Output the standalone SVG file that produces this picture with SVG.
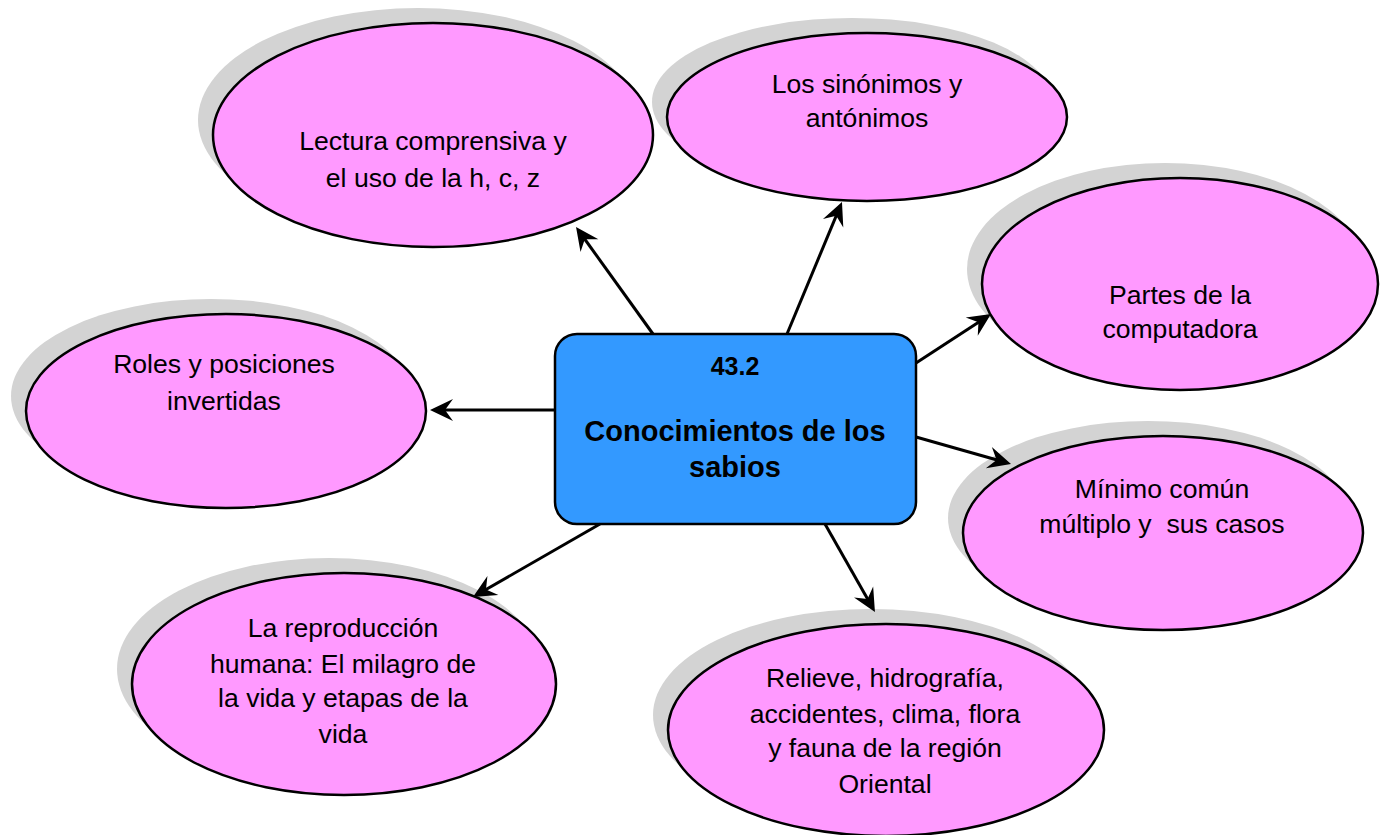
<svg xmlns="http://www.w3.org/2000/svg" width="1389" height="835" viewBox="0 0 1389 835">
<style>
.sh{fill:#d3d3d3;stroke:none}
.el{fill:#ff99ff;stroke:#000;stroke-width:2.5}
.t{font-family:"Liberation Sans",Arial,sans-serif;font-size:26.6px;fill:#000;text-anchor:middle}
.b{font-family:"Liberation Sans",Arial,sans-serif;font-weight:bold;font-size:29px;fill:#000;text-anchor:middle}
.c{stroke:#000;stroke-width:3;fill:none;marker-end:url(#ah)}
</style>
<defs>
<marker id="ah" markerUnits="userSpaceOnUse" viewBox="-24 -12 26 24" refX="-8" refY="0" markerWidth="26" markerHeight="24" orient="auto">
<path d="M0,0 L-23,-11 L-15,0 L-23,11 Z" fill="#000"/>
</marker>
</defs>
<rect width="1389" height="835" fill="#fff"/>
<g id="n-lectura">
<ellipse class="sh" cx="418" cy="120" rx="220" ry="112"/>
<ellipse class="el" cx="433" cy="135" rx="220" ry="112"/>
<text class="t" x="433" y="150">Lectura comprensiva y</text>
<text class="t" x="433" y="187">el uso de la h, c, z</text>
</g>
<g id="n-sinonimos">
<ellipse class="sh" cx="852" cy="102" rx="200" ry="84"/>
<ellipse class="el" cx="867" cy="117" rx="200" ry="84"/>
<text class="t" x="867" y="93">Los sinónimos y</text>
<text class="t" x="867" y="127">antónimos</text>
</g>
<g id="n-partes">
<ellipse class="sh" cx="1165" cy="269" rx="198" ry="106"/>
<ellipse class="el" cx="1180" cy="284" rx="198" ry="106"/>
<text class="t" x="1180" y="304">Partes de la</text>
<text class="t" x="1180" y="338">computadora</text>
</g>
<g id="n-roles">
<ellipse class="sh" cx="211" cy="396" rx="200" ry="97"/>
<ellipse class="el" cx="226" cy="411" rx="200" ry="97"/>
<text class="t" x="224" y="373">Roles y posiciones</text>
<text class="t" x="224" y="410">invertidas</text>
</g>
<g id="n-minimo">
<ellipse class="sh" cx="1148" cy="518" rx="200" ry="97"/>
<ellipse class="el" cx="1163" cy="533" rx="200" ry="97"/>
<text class="t" x="1162" y="498">Mínimo común</text>
<text class="t" x="1162" y="533" xml:space="preserve">múltiplo y  sus casos</text>
</g>
<g id="n-reproduccion">
<ellipse class="sh" cx="329" cy="669" rx="212" ry="111"/>
<ellipse class="el" cx="344" cy="684" rx="212" ry="111"/>
<text class="t" x="343" y="637">La reproducción</text>
<text class="t" x="343" y="673">humana: El milagro de</text>
<text class="t" x="343" y="707">la vida y etapas de la</text>
<text class="t" x="343" y="743">vida</text>
</g>
<g id="n-relieve">
<ellipse class="sh" cx="871" cy="715" rx="218" ry="106"/>
<ellipse class="el" cx="886" cy="730" rx="218" ry="106"/>
<text class="t" x="885" y="687">Relieve, hidrografía,</text>
<text class="t" x="885" y="723">accidentes, clima, flora</text>
<text class="t" x="885" y="757">y fauna de la región</text>
<text class="t" x="885" y="793">Oriental</text>
</g>
<g id="n-center">
<rect x="555" y="334" width="361" height="190" rx="22" ry="22" fill="#3399ff" stroke="#000" stroke-width="2.5"/>
<text class="b" x="735" y="375" style="font-size:25px">43.2</text>
<text class="b" x="735" y="441">Conocimientos de los</text>
<text class="b" x="735" y="477">sabios</text>
</g>
<g id="connectors">
<line class="c" x1="653" y1="334" x2="580.7" y2="233.5"/>
<line class="c" x1="787" y1="334" x2="838.9" y2="209.4"/>
<line class="c" x1="916" y1="363" x2="984.3" y2="318.4"/>
<line class="c" x1="555" y1="410" x2="438" y2="410"/>
<line class="c" x1="916" y1="437" x2="1003.3" y2="461.8"/>
<line class="c" x1="600" y1="524" x2="479.9" y2="593"/>
<line class="c" x1="825" y1="524" x2="871" y2="605"/>
</g>
</svg>
